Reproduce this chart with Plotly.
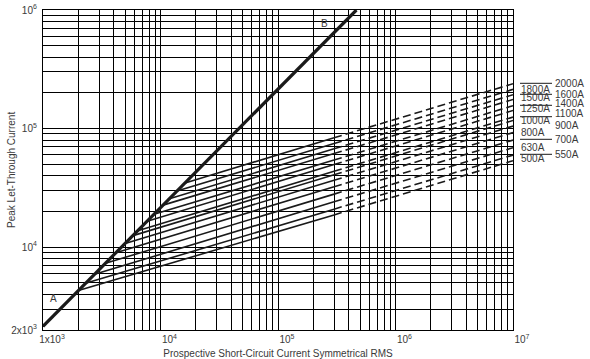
import math
import plotly.graph_objects as go

# ---------------- data ----------------
fuse_ratings = ["500A", "550A", "630A", "700A", "800A", "900A", "1000A",
                "1100A", "1250A", "1400A", "1500A", "1600A", "1800A", "2000A"]
# point where each fuse curve leaves the A-B line
start_current = [2000, 2300, 2750, 3400, 4170, 5000, 5830,
                 6400, 7700, 8800, 10500, 11900, 13800, 16200]
start_peak = [4300, 4950, 5900, 7300, 8970, 10750, 12500,
              13750, 16550, 18900, 22600, 25600, 29700, 34800]
# end of the solid (tested) part
solid_end_current = [3.0e5, 3.0e5, 3.0e5, 3.0e5, 3.0e5, 3.0e5, 3.0e5,
                     3.0e5, 3.0e5, 3.0e5, 3.0e5, 3.0e5, 3.0e5, 3.0e5]
solid_end_peak = [1.87e4, 2.09e4, 2.41e4, 2.80e4, 3.23e4, 3.66e4, 4.08e4,
                  4.36e4, 4.97e4, 5.43e4, 6.15e4, 6.75e4, 7.48e4, 8.36e4]
# dashed extrapolation to the right edge
end_current = [1e7] * 14
end_peak = [5.36e4, 5.98e4, 6.90e4, 8.00e4, 9.25e4, 1.05e5, 1.17e5,
            1.25e5, 1.42e5, 1.56e5, 1.76e5, 1.93e5, 2.14e5, 2.39e5]

# A-B line (maximum peak current, no fuse)
ab_current = [1000, 465000]
ab_peak = [2150, 1000000]

x_tick_labels = ["1x10<sup>3</sup>", "10<sup>4</sup>", "10<sup>5</sup>", "10<sup>6</sup>", "10<sup>7</sup>"]
y_tick_labels = ["2x10<sup>3</sup>", "10<sup>4</sup>", "10<sup>5</sup>", "10<sup>6</sup>"]

# label layout on the right
right_col_labels = ["2000A", "1600A", "1400A", "1100A", "900A", "700A", "550A"]
left_col_labels = ["1800A", "1500A", "1250A", "1000A", "800A", "630A", "500A"]

# ---------------- layout geometry ----------------
W, H = 590, 359
ML, MR, MT, MB = 43, 77, 10, 29
PW, PH = W - ML - MR, H - MT - MB

def px_x(px):
    return (px - ML) / PW

def px_y(py):
    return 1 - (py - MT) / PH

FONT = "Liberation Sans, Arial, sans-serif"
TXT = "#3a3a3a"
LINE = "#1a1a1a"

fig = go.Figure()

for i, name in enumerate(fuse_ratings):
    fig.add_trace(go.Scatter(
        x=[start_current[i], solid_end_current[i]],
        y=[start_peak[i], solid_end_peak[i]],
        mode="lines", line=dict(color=LINE, width=1.6),
        showlegend=False, hoverinfo="skip", name=name))
    fig.add_trace(go.Scatter(
        x=[solid_end_current[i], end_current[i]],
        y=[solid_end_peak[i], end_peak[i]],
        mode="lines", line=dict(color=LINE, width=1.6, dash="8px,4px"),
        showlegend=False, hoverinfo="skip", name=name))

fig.add_trace(go.Scatter(x=ab_current, y=ab_peak, mode="lines",
                         line=dict(color=LINE, width=3.2),
                         showlegend=False, hoverinfo="skip"))

# grid lines at every 1..9 multiple, labels only at decades
x_grid = [m * 10 ** d for d in range(3, 7) for m in range(1, 10)] + [1e7]
x_text = []
for v in x_grid:
    lv = math.log10(v)
    x_text.append(x_tick_labels[int(round(lv)) - 3] if abs(lv - round(lv)) < 1e-9 else "")

y_grid = [m * 10 ** d for d in range(3, 6) for m in range(1, 10) if m * 10 ** d >= 2000] + [1e6]
y_text = []
for v in y_grid:
    lv = math.log10(v)
    if v == 2000:
        y_text.append(y_tick_labels[0])
    elif abs(lv - round(lv)) < 1e-9:
        y_text.append(y_tick_labels[int(round(lv)) - 3])
    else:
        y_text.append("")

fig.update_xaxes(type="log", range=[3, 7], tickvals=x_grid, ticktext=x_text,
                 showgrid=True, gridcolor="black", gridwidth=1.1,
                 showline=True, linecolor="black", linewidth=1.2, mirror=True,
                 ticks="", ticklabelshift=9, automargin=False,
                 tickfont=dict(family=FONT, size=10, color=TXT),
                 zeroline=False,
                 title=dict(text="Prospective Short-Circuit Current Symmetrical RMS",
                            font=dict(family=FONT, size=10, color=TXT)))
fig.update_yaxes(type="log", range=[math.log10(2000), 6], tickvals=y_grid, ticktext=y_text,
                 showgrid=True, gridcolor="black", gridwidth=1.1,
                 showline=True, linecolor="black", linewidth=1.2, mirror=True,
                 ticks="", automargin=False, ticklabelstandoff=3,
                 tickfont=dict(family=FONT, size=10, color=TXT),
                 zeroline=False)

annotations = []
shapes = []
right_y_px = [84, 94.5, 103, 114, 125.5, 139.5, 154.5]
leader_px = [83.3, 94.3, 105.3, 116.7, None, 139.3, 154.3]
left_y_px = [89.5, 97, 108.5, 120.5, 132, 147, 158.5]
for t, yp in zip(right_col_labels, right_y_px):
    annotations.append(dict(text=t, x=px_x(553), y=px_y(yp), xref="paper", yref="paper",
                            xanchor="left", yanchor="middle", showarrow=False,
                            font=dict(family=FONT, size=10, color=TXT)))
for t, yp in zip(left_col_labels, left_y_px):
    annotations.append(dict(text=t, x=px_x(519), y=px_y(yp), xref="paper", yref="paper",
                            xanchor="left", yanchor="middle", showarrow=False,
                            font=dict(family=FONT, size=10, color=TXT)))
for lp in leader_px:
    if lp is None:
        continue
    shapes.append(dict(type="line", xref="paper", yref="paper",
                       x0=px_x(520), x1=px_x(552), y0=px_y(lp), y1=px_y(lp),
                       line=dict(color=LINE, width=1)))

annotations.append(dict(text="A", x=px_x(53), y=px_y(298), xref="paper", yref="paper",
                        xanchor="center", yanchor="middle",
                        showarrow=False, font=dict(family=FONT, size=10, color=TXT)))
annotations.append(dict(text="B", x=px_x(324), y=px_y(23), xref="paper", yref="paper",
                        xanchor="center", yanchor="middle",
                        showarrow=False, font=dict(family=FONT, size=10, color=TXT)))
# y-axis title
annotations.append(dict(text="Peak Let-Through Current", x=px_x(11), y=px_y(170),
                        xref="paper", yref="paper", textangle=-90,
                        xanchor="center", yanchor="middle", showarrow=False,
                        font=dict(family=FONT, size=10, color=TXT)))

fig.update_layout(width=W, height=H,
                  margin=dict(l=ML, r=MR, t=MT, b=MB, pad=0),
                  paper_bgcolor="white", plot_bgcolor="white",
                  annotations=annotations, shapes=shapes, showlegend=False)

fig.write_html("out.html", config={"displayModeBar": False},
               post_script="document.body.style.margin='0px';")
